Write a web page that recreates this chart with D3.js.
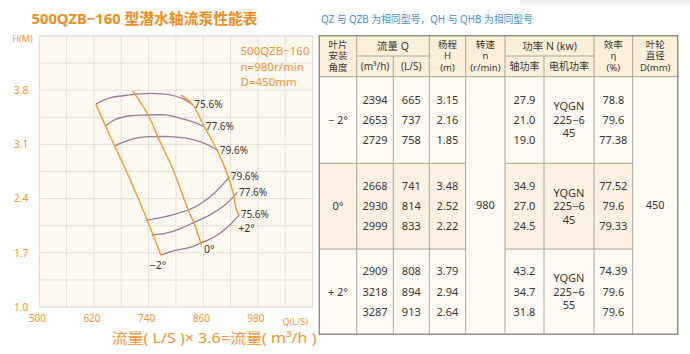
<!DOCTYPE html>
<html>
<head>
<meta charset="utf-8">
<script src="https://cdn.jsdelivr.net/npm/d3@7"></script>
<style>
  body { margin: 0; background: #fff; }
  svg text { font-family: "Noto Sans", "Noto Sans CJK SC", sans-serif; }
</style>
</head>
<body>
<svg id="chart" width="690" height="354"></svg>
<script>
"use strict";

// ---- chart data (Q in L/S, H in m) ----
const xTicks = [500, 620, 740, 860, 980];
const yTicks = [1.0, 1.7, 2.4, 3.1, 3.8];

const angleNames = ["−2°", "0°", "+2°"];
const angleCurves = [
  [[624, 3.62], [666, 3.07], [690, 2.77], [728, 2.25], [767, 1.67]],
  [[705, 3.79], [739, 3.48], [760, 3.20], [794, 2.77], [827, 2.25], [840, 2.08], [856, 1.80]],
  [[811, 3.74], [837, 3.61], [862, 3.33], [890, 3.03], [915, 2.68], [926, 2.46], [933, 2.25], [939, 2.19]]
];

const effNames = ["75.6%", "77.6%", "79.6%", "79.6%", "77.6%", "75.6%"];
const effCurves = [
  [[624, 3.62], [655, 3.70], [699, 3.74], [743, 3.76], [787, 3.74], [815, 3.69], [837, 3.61]],
  [[646, 3.34], [666, 3.42], [699, 3.47], [739, 3.48], [776, 3.48], [809, 3.44], [837, 3.39], [862, 3.33]],
  [[666, 3.08], [684, 3.13], [721, 3.19], [754, 3.20], [787, 3.20], [831, 3.17], [864, 3.11], [893, 3.02]],
  [[734, 2.12], [765, 2.15], [798, 2.20], [827, 2.25], [853, 2.33], [886, 2.48], [917, 2.68]],
  [[747, 1.93], [776, 1.95], [809, 2.01], [842, 2.10], [875, 2.19], [908, 2.32], [935, 2.48]],
  [[767, 1.67], [798, 1.73], [831, 1.77], [856, 1.83], [886, 1.91], [915, 2.04], [939, 2.19]]
];

const infoLines = ["500QZB−160", "n=980r/min", "D=450mm"];

// ---- table data ----
const tblAngles   = ["−  2°", "0°", "+  2°"];
const tblFlowM3h  = [["2394", "2653", "2729"], ["2668", "2930", "2999"], ["2909", "3218", "3287"]];
const tblFlowLs   = [["665", "737", "758"], ["741", "814", "833"], ["808", "894", "913"]];
const tblHead     = [["3.15", "2.16", "1.85"], ["3.48", "2.52", "2.22"], ["3.79", "2.94", "2.64"]];
const tblShaft    = [["27.9", "21.0", "19.0"], ["34.9", "27.0", "24.5"], ["43.2", "34.7", "31.8"]];
const tblMotor    = [["YQGN", "225−6", "45"], ["YQGN", "225−6", "45"], ["YQGN", "225−6", "55"]];
const tblEff      = [["78.8", "79.6", "77.38"], ["77.52", "79.6", "79.33"], ["74.39", "79.6", "79.6"]];
const tblSpeed    = "980";
const tblDiameter = "450";

const ORANGE = "#f29a33",
      LABEL  = "#f39230",
      PURPLE = "#9a7b95",
      GRID   = "#e4dfd8",
      INK    = "#3a3633";

const svg = d3.select("#chart");

// faint smudge at the top right of the scan
const grad = svg.append("defs").append("linearGradient")
    .attr("id", "smudge").attr("x1", 0).attr("x2", 0).attr("y1", 0).attr("y2", 1);
grad.append("stop").attr("offset", 0).attr("stop-color", "#d9d5d1").attr("stop-opacity", 0.55);
grad.append("stop").attr("offset", 1).attr("stop-color", "#ffffff").attr("stop-opacity", 0);
svg.append("rect").attr("x", 520).attr("y", 0).attr("width", 170).attr("height", 14)
    .attr("fill", "url(#smudge)");

// titles
svg.append("text")
    .attr("x", 31.5).attr("y", 19).attr("dy", "0.35em")
    .attr("fill", "#f08c1c").attr("font-weight", "bold").attr("font-size", 15)
    .attr("textLength", 226).attr("lengthAdjust", "spacingAndGlyphs")
    .text("500QZB−160 型潜水轴流泵性能表");

svg.append("text")
    .attr("x", 321).attr("y", 19).attr("dy", "0.35em")
    .attr("fill", "#4d8fd0").attr("font-size", 10)
    .attr("textLength", 212).attr("lengthAdjust", "spacingAndGlyphs")
    .text("QZ 与 QZB 为相同型号，QH 与 QHB 为相同型号");

// ---- chart ----
const x = d3.scaleLinear().domain([500, 1100]).range([39.3, 312.6]);
const y = d3.scaleLinear().domain([1.0, 4.5]).range([307, 36]);

const plot = svg.append("g");

plot.append("rect")
    .attr("x", x(500)).attr("y", y(4.5))
    .attr("width", x(1100) - x(500)).attr("height", y(1.0) - y(4.5))
    .attr("fill", "#fdf8f0").attr("stroke", GRID);

// grid
plot.append("g").selectAll("line")
    .data(d3.range(500, 1101, 60))
  .enter().append("line")
    .attr("x1", d => x(d)).attr("x2", d => x(d))
    .attr("y1", y(1.0)).attr("y2", y(4.5))
    .attr("stroke", GRID);

plot.append("g").selectAll("line")
    .data(d3.range(0, 11).map(i => 1.0 + i * 0.35))
  .enter().append("line")
    .attr("x1", x(500)).attr("x2", x(1100))
    .attr("y1", d => y(d)).attr("y2", d => y(d))
    .attr("stroke", GRID);

// axes
const yAxis = d3.axisLeft(y).tickValues(yTicks).tickFormat(d3.format(".1f")).tickSize(0);
const gy = plot.append("g").attr("transform", "translate(" + x(500) + ",0)").call(yAxis);
gy.select(".domain").remove();
gy.selectAll("text")
    .attr("x", 14 - x(500)).attr("text-anchor", "start")
    .attr("fill", LABEL).attr("font-size", 10);

const xAxis = d3.axisBottom(x).tickValues(xTicks).tickSize(0);
const gx = plot.append("g").attr("transform", "translate(0," + y(1.0) + ")").call(xAxis);
gx.select(".domain").remove();
gx.selectAll("text")
    .attr("y", 15).attr("dy", "0")
    .attr("fill", LABEL).attr("font-size", 10);
gx.selectAll(".tick").attr("transform", d => "translate(" + (x(d) - 2) + ",0)");

plot.append("text")
    .attr("x", 22.5).attr("y", 38.5).attr("dy", "0.35em")
    .attr("text-anchor", "middle").attr("fill", LABEL).attr("font-size", 9)
    .text("H(M)");

plot.append("text")
    .attr("x", x(1062)).attr("y", 321.5).attr("dy", "0.35em")
    .attr("text-anchor", "middle").attr("fill", LABEL).attr("font-size", 9)
    .text("Q(L/S)");

svg.append("text")
    .attr("x", 111.5).attr("y", 338).attr("dy", "0.35em")
    .attr("fill", LABEL).attr("font-size", 14)
    .attr("textLength", 205).attr("lengthAdjust", "spacingAndGlyphs")
    .text("流量( L/S )× 3.6=流量( m³/h )");

// info box
plot.selectAll(".info")
    .data(infoLines)
  .enter().append("text")
    .attr("class", "info")
    .attr("x", 240.5).attr("y", (d, i) => 51 + i * 15.5).attr("dy", "0.35em")
    .attr("fill", LABEL).attr("font-size", 11.5)
    .text(d => d);

const line = d3.line()
    .x(d => x(d[0])).y(d => y(d[1]))
    .curve(d3.curveCatmullRom);

// efficiency curves
plot.append("g").selectAll("path")
    .data(effCurves)
  .enter().append("path")
    .attr("d", line)
    .attr("fill", "none").attr("stroke", PURPLE).attr("stroke-width", 1.3);

// blade angle curves
plot.append("g").selectAll("path")
    .data(angleCurves)
  .enter().append("path")
    .attr("d", line)
    .attr("fill", "none").attr("stroke", ORANGE).attr("stroke-width", 1.4);

// efficiency labels at curve ends
plot.append("g").selectAll("text")
    .data(effCurves)
  .enter().append("text")
    .attr("x", d => x(d[d.length - 1][0]) + 1.5)
    .attr("y", d => y(d[d.length - 1][1]))
    .attr("dy", "0.35em")
    .attr("fill", INK).attr("font-size", 10)
    .text((d, i) => effNames[i]);

// angle labels near curve ends
const angleOffsets = [[-3, 10, "middle"], [2.5, 4, "start"], [-1, 13, "start"]];
plot.append("g").selectAll("text")
    .data(angleCurves)
  .enter().append("text")
    .attr("x", (d, i) => x(d[d.length - 1][0]) + angleOffsets[i][0])
    .attr("y", (d, i) => y(d[d.length - 1][1]) + angleOffsets[i][1])
    .attr("dy", "0.35em")
    .attr("text-anchor", (d, i) => angleOffsets[i][2])
    .attr("fill", INK).attr("font-size", 10.5)
    .text((d, i) => angleNames[i]);

// ---- table ----
const colX = [319.3, 356.7, 393.3, 429.3, 465.7, 505, 544, 594, 632.7, 677.7];
const hdrTop = 35.7, hdrMid = 56, hdrBot = 76.7;
const grpY = [76.7, 163.3, 249, 334.3];
const LINE = "#aaa49e";

const tbl = svg.append("g");

tbl.append("rect")
    .attr("x", colX[0]).attr("y", hdrTop)
    .attr("width", colX[9] - colX[0]).attr("height", grpY[3] - hdrTop)
    .attr("fill", "#fffaf4");
tbl.append("rect")
    .attr("x", colX[0]).attr("y", hdrTop)
    .attr("width", colX[9] - colX[0]).attr("height", hdrBot - hdrTop)
    .attr("fill", "#fcefda");
// shaded middle group
[[0, 4], [5, 8]].forEach(([a, b]) => {
  tbl.append("rect")
      .attr("x", colX[a]).attr("y", grpY[1])
      .attr("width", colX[b] - colX[a]).attr("height", grpY[2] - grpY[1])
      .attr("fill", "#fcf1e2");
});

const seg = (x1, y1, x2, y2) => tbl.append("line")
    .attr("x1", x1).attr("y1", y1).attr("x2", x2).attr("y2", y2)
    .attr("stroke", LINE).attr("stroke-width", 1);

[1, 3, 4, 5, 7, 8].forEach(i => seg(colX[i], hdrTop, colX[i], grpY[3]));
[2, 6].forEach(i => seg(colX[i], hdrMid, colX[i], grpY[3]));
seg(colX[1], hdrMid, colX[3], hdrMid);
seg(colX[5], hdrMid, colX[7], hdrMid);
seg(colX[0], hdrBot, colX[9], hdrBot);
[1, 2].forEach(g => {
  seg(colX[0], grpY[g], colX[4], grpY[g]);
  seg(colX[5], grpY[g], colX[8], grpY[g]);
});
tbl.append("rect")
    .attr("x", colX[0]).attr("y", hdrTop)
    .attr("width", colX[9] - colX[0]).attr("height", grpY[3] - hdrTop)
    .attr("fill", "none").attr("stroke", "#8e8a85").attr("stroke-width", 1.4);

const cell = (cx, cy, s, size) => tbl.append("text")
    .attr("x", cx).attr("y", cy).attr("dy", "0.35em")
    .attr("text-anchor", "middle").attr("fill", INK)
    .attr("font-size", size || 10.5)
    .text(s);
const mid = (a, b) => (colX[a] + colX[b]) / 2;

// header: stacked labels as one text element with line tspans
const stacked = [
  [0, 1, ["叶片", "安装", "角度"]],
  [3, 4, ["杨程", "H", "(m)"]],
  [4, 5, ["转速", "n", "(r/min)"]],
  [7, 8, ["效率", "η", "(%)"]],
  [8, 9, ["叶轮", "直径", "D(mm)"]]
];
stacked.forEach(([a, b, lines]) => {
  const t = tbl.append("text")
      .attr("text-anchor", "middle").attr("fill", INK).attr("font-size", 9.5);
  lines.forEach((s, k) => {
    t.append("tspan")
        .attr("x", mid(a, b)).attr("y", 44.7 + k * 11.4).attr("dy", "0.35em")
        .text(s);
  });
});
cell(mid(1, 3), 46, "流量 Q");
cell(mid(1, 2), 66.7, "(m³/h)", 10);
cell(mid(2, 3), 66.7, "(L/S)", 10);
cell(mid(5, 7), 46, "功率 N  (kw)");
cell(mid(5, 6), 66.7, "轴功率", 10);
cell(mid(6, 7), 66.7, "电机功率", 10);

// body
const rowCols = [[1, 2, tblFlowM3h], [2, 3, tblFlowLs], [3, 4, tblHead], [5, 6, tblShaft], [7, 8, tblEff]];
tblAngles.forEach((ang, g) => {
  const cy = (grpY[g] + grpY[g + 1]) / 2;
  cell(mid(0, 1), cy, ang, 11);
  rowCols.forEach(([a, b, arr]) => {
    arr[g].forEach((v, r) => cell(mid(a, b), cy + (r - 1) * 20.3, v, 11));
  });
  tblMotor[g].forEach((v, r) => cell(mid(6, 7), cy + (r - 1) * 13.5, v, 11));
});
cell(mid(4, 5), (grpY[0] + grpY[3]) / 2, tblSpeed, 11);
cell(mid(8, 9), (grpY[0] + grpY[3]) / 2, tblDiameter, 11);
</script>
</body>
</html>
